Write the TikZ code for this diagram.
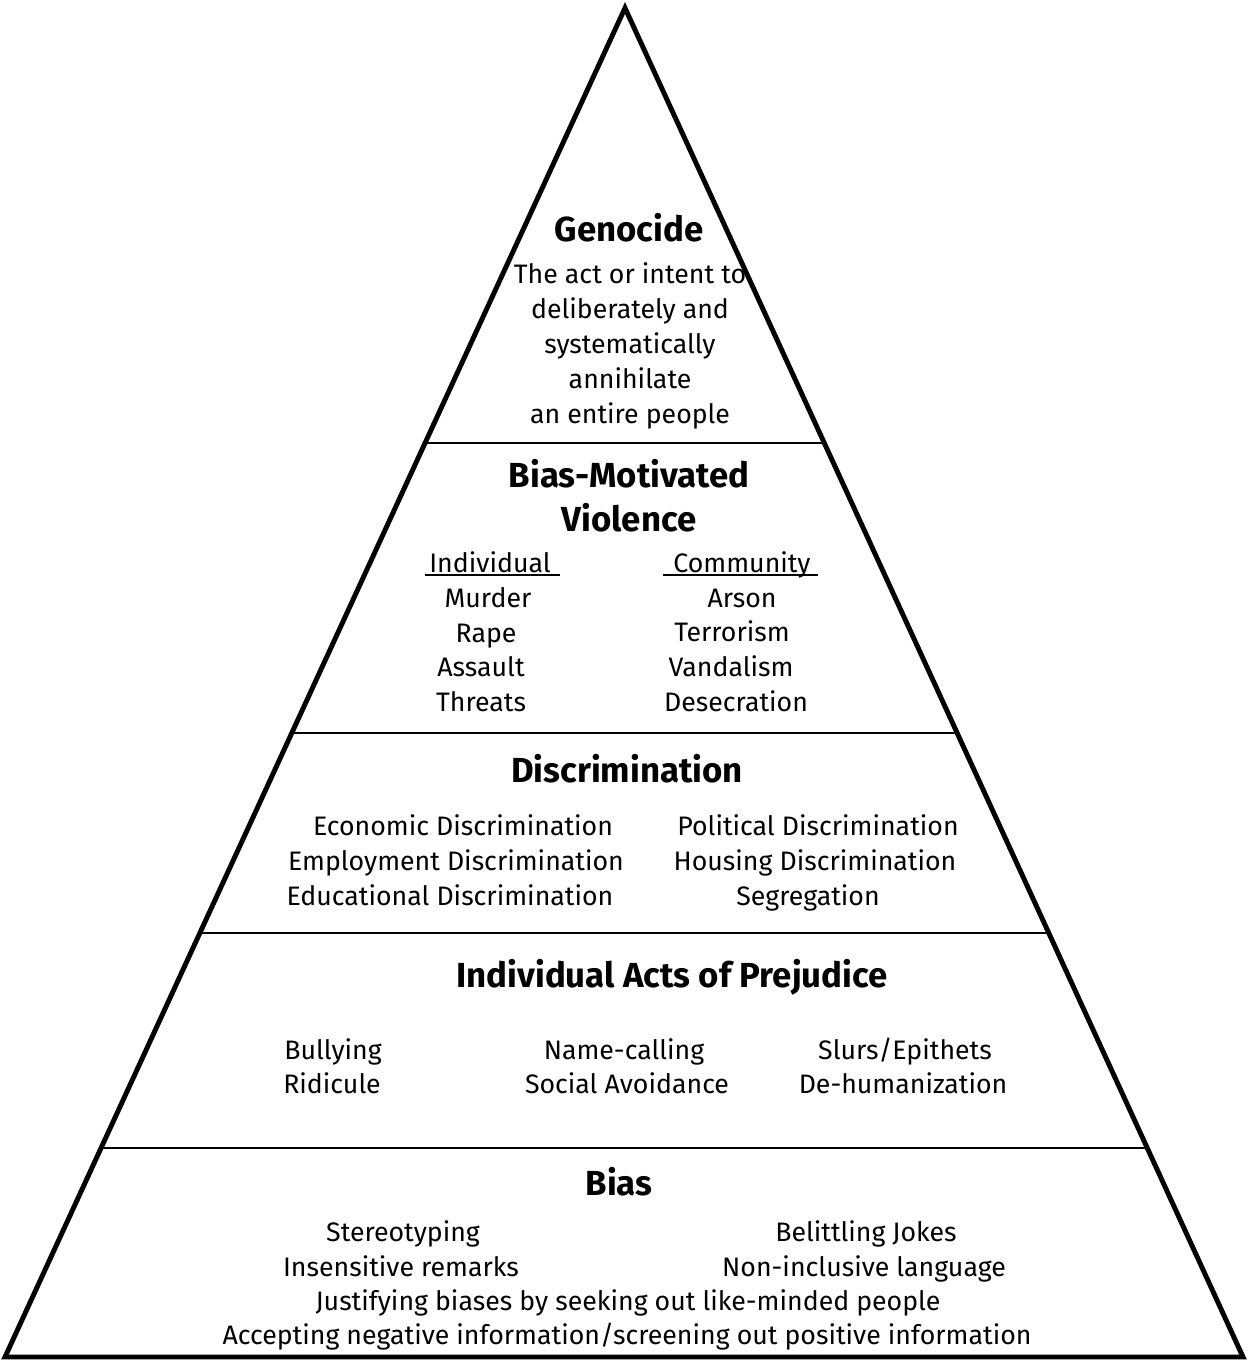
\documentclass[tikz,border=0pt]{standalone}
\usepackage{fontspec}
\setmainfont{Fira Sans}
\usetikzlibrary{calc,positioning}

\begin{document}
\begin{tikzpicture}[x=0.02cm, y=-0.02cm,
    title/.style={anchor=base, inner sep=0pt, font=\bfseries\fontsize{19.8}{22}\selectfont},
    entry/.style={anchor=base, inner sep=0pt, font=\fontsize{15.2}{18}\selectfont},
    outline/.style={line width=2.8pt, line join=miter},
    layer/.style={line width=1.6pt},
    rule/.style={line width=1pt}]
    \useasboundingbox (0,0) rectangle (1247,1361);
    \coordinate (apex) at (625,8);
    \coordinate (bl) at (5,1357);
    \coordinate (br) at (1243,1357);
    \draw[outline] (apex) -- (bl) -- (br) -- cycle;
    % layer borders
    \draw[layer] ($(apex)!{(443-8)/1349}!(bl)$) -- ($(apex)!{(443-8)/1349}!(br)$);
    \draw[layer] ($(apex)!{(733-8)/1349}!(bl)$) -- ($(apex)!{(733-8)/1349}!(br)$);
    \draw[layer] ($(apex)!{(933-8)/1349}!(bl)$) -- ($(apex)!{(933-8)/1349}!(br)$);
    \draw[layer] ($(apex)!{(1148-8)/1349}!(bl)$) -- ($(apex)!{(1148-8)/1349}!(br)$);
    % genocide
    \node[title] (genocide) at (629,242) {Genocide};
    \node[entry] (def1) at (630,284) {The act or intent to};
    \node[entry] (def2) at (630,319) {deliberately and};
    \node[entry] (def3) at (630,354) {systematically};
    \node[entry] (def4) at (630,389) {annihilate};
    \node[entry] (def5) at (630,423) {an entire people};
    % violence
    \node[title] (violence1) at (629,487) {Bias-Motivated};
    \node[title] (violence2) at (629,531) {Violence};
    \node[entry] (individual) at (490,572) {Individual};
    \node[entry] (community) at (742,572) {Community};
    \draw[rule] (425,575) -- (560,575);
    \draw[rule] (663,575) -- (818,575);
    \node[entry] (murder) at (488,607) {Murder};
    \node[entry] (rape) at (486,642) {Rape};
    \node[entry] (assault) at (481,676) {Assault};
    \node[entry] (threats) at (481,711) {Threats};
    \node[entry] (arson) at (742,607) {Arson};
    \node[entry] (terrorism) at (732,641) {Terrorism};
    \node[entry] (vandalism) at (731,676) {Vandalism};
    \node[entry] (desecration) at (736,711) {Desecration};
    % discrimination
    \node[title] (discrimination) at (627,782) {Discrimination};
    \node[entry] (economic) at (463,835) {Economic Discrimination};
    \node[entry] (employment) at (456,870) {Employment Discrimination};
    \node[entry] (educational) at (450,905) {Educational Discrimination};
    \node[entry] (political) at (818,835) {Political Discrimination};
    \node[entry] (housing) at (815,870) {Housing Discrimination};
    \node[entry] (segregation) at (808,905) {Segregation};
    % prejudice
    \node[title] (prejudice) at (672,987) {Individual Acts of Prejudice};
    \node[entry] (bullying) at (333,1059) {Bullying};
    \node[entry] (ridicule) at (332,1093) {Ridicule};
    \node[entry] (namecalling) at (624,1059) {Name-calling};
    \node[entry] (avoidance) at (627,1093) {Social Avoidance};
    \node[entry] (slurs) at (905,1059) {Slurs/Epithets};
    \node[entry] (dehuman) at (903,1093) {De-humanization};
    % bias
    \node[title] (bias) at (619,1195) {Bias};
    \node[entry] (stereotyping) at (403,1241) {Stereotyping};
    \node[entry] (insensitive) at (401,1276) {Insensitive remarks};
    \node[entry] (jokes) at (866,1241) {Belittling Jokes};
    \node[entry] (language) at (864,1276) {Non-inclusive language};
    \node[entry] (justifying) at (628,1310) {Justifying biases by seeking out like-minded people};
    \node[entry] (accepting) at (627,1344) {Accepting negative information/screening out positive information};
\end{tikzpicture}
\end{document}
